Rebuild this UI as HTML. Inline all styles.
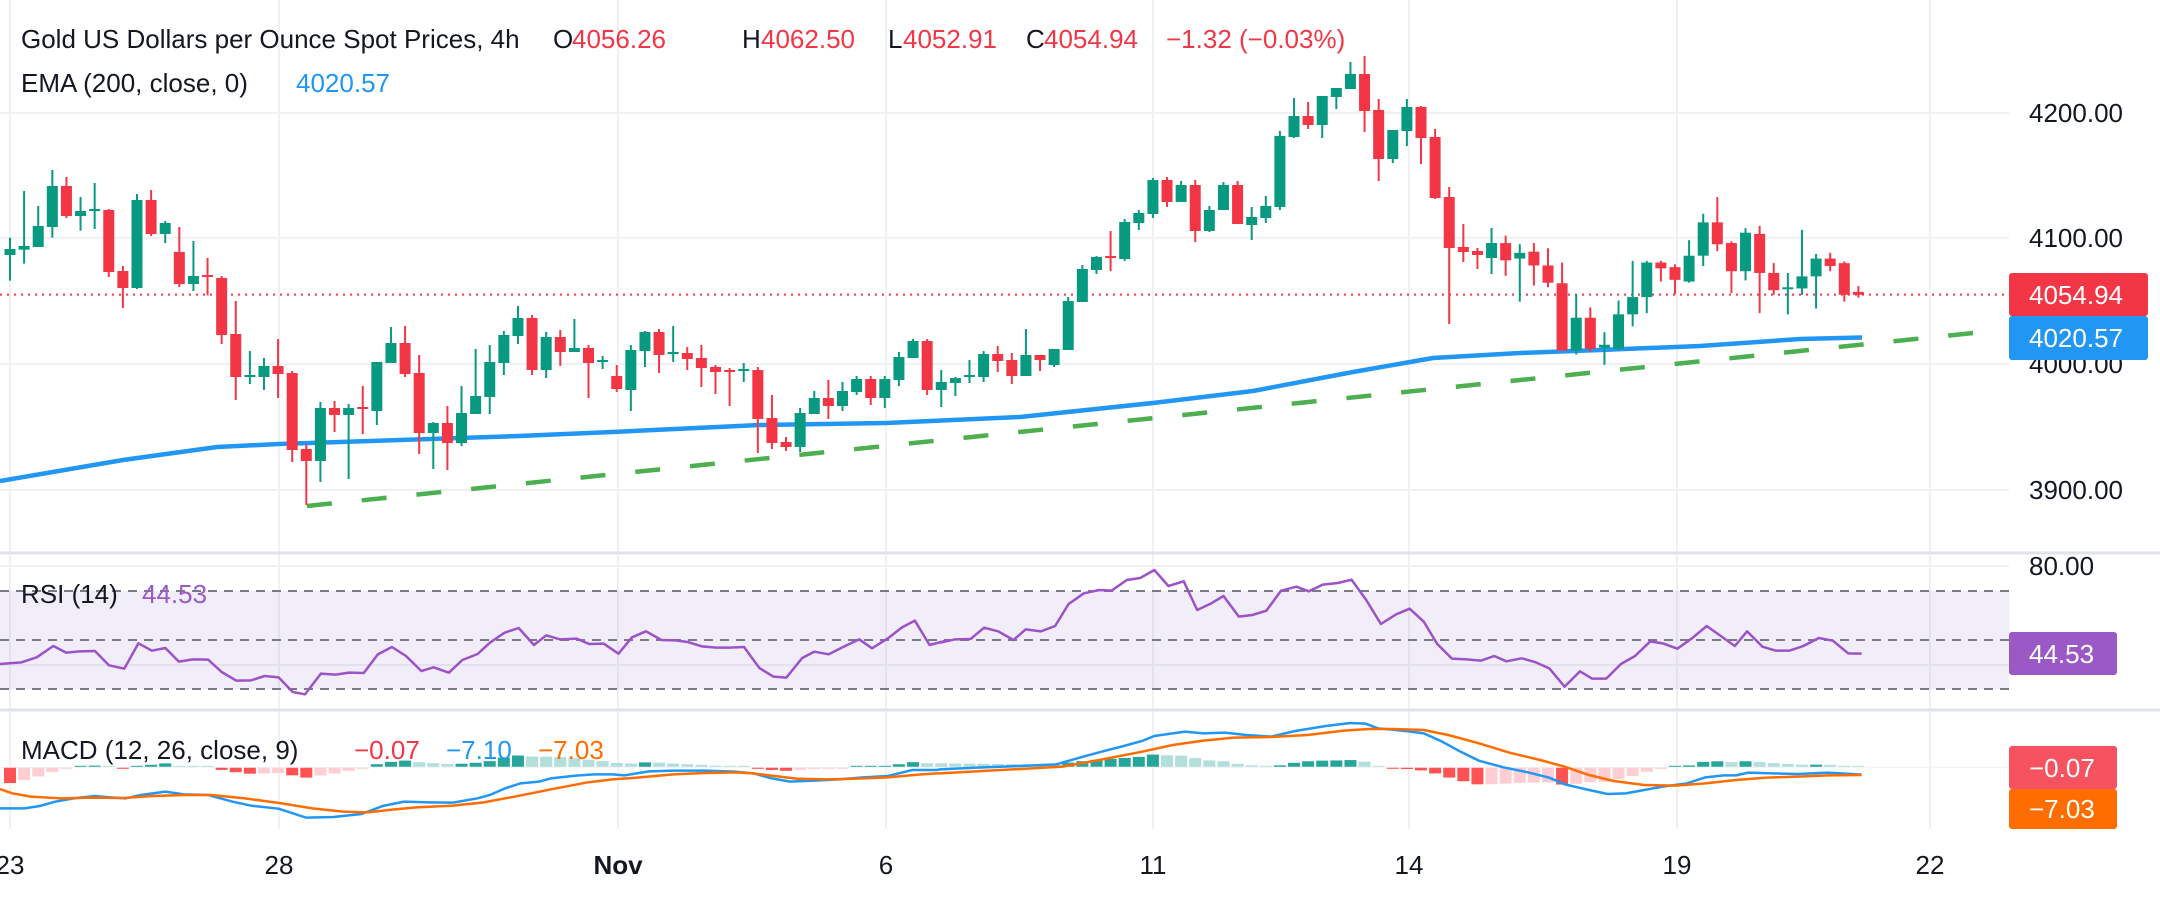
<!DOCTYPE html>
<html><head><meta charset="utf-8"><style>
html,body{margin:0;padding:0;background:#fff;}
svg{display:block;}
text{font-family:"Liberation Sans",sans-serif;}
</style></head><body>
<svg id="s" width="2160" height="901" xmlns="http://www.w3.org/2000/svg"></svg>
<script>
var G='#089981',R='#f23645';
var A=[[323,357,375,452,G],[183,348,359,401,G],[228,288,351,351,G],[120,168,291,323,G],[141,168,258,264,R],[201,243,258,302,G],[159,237,242,297,G],[237,240,426,441,R],[408,423,474,534,R],[192,210,474,477,G],[180,210,312,318,R],[273,279,312,339,G],[291,366,462,471,R],[333,438,462,483,G],[384,435,440,496,R],[438,444,615,642,R],[513,612,741,810,R],[663,735,741,762,G],[684,708,741,780,G],[627,708,732,804,R],[723,729,960,996,R],[942,957,993,1125,R],[816,834,993,1056,G],[813,834,855,906,R],[822,834,855,1047,G],[768,831,837,912,R],[696,696,843,885,G],[591,639,699,699,G],[588,639,732,741,R],[675,729,909,972,R],[876,879,909,1017,G],[828,879,939,1020,R],[768,849,939,948,G],[657,798,852,852,G],[645,696,801,852,G],[603,615,699,735,G],[528,564,618,642,G],
[555,564,720,735,R],[606,621,720,744,G],[600,621,666,708,R],[567,654,666,666,G],[645,654,699,804,R],[678,690,695,717,G],[705,738,777,786,R],[645,660,780,843,G],[603,606,663,711,G],[597,606,675,729,R],[588,666,670,696,G],[651,669,687,720,R],[645,684,714,771,R],[705,711,726,792,R],[714,720,725,828,R],[699,717,722,756,G],[711,720,867,969,R],[795,864,939,957,R],[921,936,951,963,R],[834,849,951,966,G],[783,804,852,852,G],[750,804,828,867,R],[756,783,828,843,G],[738,747,786,795,G],[738,747,804,825,R],[738,747,804,834,G],[666,681,750,768,G],[627,633,684,684,G],[627,633,780,795,R],[720,756,780,831,G],[741,744,759,798,G],[690,735,740,759,G],[663,672,741,756,G],[648,672,693,726,R],[669,690,738,762,R]];
var B=[[867,945,1008,1008,G],[945,945,960,993,R],[927,927,975,981,G],[771,783,930,930,G],[675,687,786,786,G],[648,651,690,702,G],[573,648,651,693,R],[537,546,657,663,G],[510,519,549,570,G],[414,420,522,534,G],[411,420,486,501,R],[423,435,486,486,G],[420,435,573,606,R],[498,510,573,576,G],[426,435,510,510,G],[423,435,552,552,R],[501,531,555,600,G],[468,498,534,549,G],[273,288,501,510,G],[174,228,291,294,G],[186,228,255,267,R],[168,168,255,294,G],[144,144,171,207,G],[66,102,147,147,G],[48,102,213,276,R],[177,210,357,423,R],[270,270,357,369,G],[177,201,273,318,G],[198,201,294,372,R],[267,291,474,477,R],[441,471,624,852,R],[552,621,636,666,R],[624,633,645,687,R],[564,609,654,702,G]];
var C=[[410,423,453,480,R],[425,440,450,525,G],[423,438,462,497,R],[432,462,492,500,R],[457,493,610,610,R],[512,553,610,617,G],[535,553,607,612,R],[578,600,605,635,G],[523,547,607,610,G],[454,517,547,568,G],[454,457,517,545,G],[454,457,467,490,R],[460,465,487,512,R],[418,445,490,492,G],[372,387,445,463,G],[343,387,425,437,R],[420,423,472,510,R],[397,405,472,488,G],[393,407,475,545,R],[458,475,505,513,R],[475,500,503,547,G],[400,481,502,513,G],[442,450,481,537,G],[440,450,463,472,R],[455,458,513,525,R],[498,508,513,518,R]];
var cs=[];
A.forEach(function(c){cs.push([130+c[0]/3,130+c[1]/3,130+c[2]/3,130+c[3]/3,c[4]]);});
B.forEach(function(c){cs.push([40+c[0]/3,40+c[1]/3,40+c[2]/3,40+c[3]/3,c[4]]);});
C.forEach(function(c){var k=0.5746;cs.push([c[0]*k,c[1]*k,c[2]*k,c[3]*k,c[4]]);});
function X(i){return 10+14.11*i;}
var o='';
[10,279,618,886,1153,1409,1677,1930].forEach(function(x){o+='<line x1="'+x+'" y1="0" x2="'+x+'" y2="829" stroke="#f0f1f4" stroke-width="2"/>';});
[113,237.7,364,490,566,665].forEach(function(y){o+='<line x1="0" y1="'+y+'" x2="2009" y2="'+y+'" stroke="#f0f1f4" stroke-width="2"/>';});
o+='<line x1="0" y1="553" x2="2160" y2="553" stroke="#e0e3eb" stroke-width="3"/>';
o+='<line x1="0" y1="710" x2="2160" y2="710" stroke="#e0e3eb" stroke-width="3"/>';
o+='<line x1="0" y1="294.6" x2="2009" y2="294.6" stroke="#f23645" stroke-width="2" stroke-dasharray="2,5"/>';
o+='<polyline fill="none" stroke="#2196f3" stroke-width="4.5" stroke-linejoin="round" points="0,481 123,460 217,447 279,444 519,436 618,431.7 760,425 886,423 1020,417 1153,403 1253,391 1353,372 1410,362 1433,358 1520,353 1600,350 1700,346 1800,339 1862,337.5"/>';
o+='<line x1="307" y1="506" x2="1973" y2="333" stroke="#4caf50" stroke-width="4.5" stroke-dasharray="25,30"/>';
cs.forEach(function(c,i){var x=X(i);var t=Math.min(c[1],c[2]),b=Math.max(c[1],c[2]);if(b-t<2){b=t+2;}
o+='<line x1="'+x+'" y1="'+c[0]+'" x2="'+x+'" y2="'+c[3]+'" stroke="'+c[4]+'" stroke-width="2"/>';
o+='<rect x="'+(x-5.5)+'" y="'+t+'" width="11" height="'+(b-t)+'" fill="'+c[4]+'"/>';});
o+='<rect x="0" y="591" width="2009" height="98" fill="#7e57c2" fill-opacity="0.1"/>';
[591,640,689].forEach(function(y){o+='<line x1="0" y1="'+y+'" x2="2009" y2="'+y+'" stroke="#787b86" stroke-width="2" stroke-dasharray="9,7"/>';});
function pts(arr,ox,sx,oy){return arr.map(function(p){return [ox+p[0]/sx,oy+p[1]/3];});}
var r1=[[0,342],[35,337],[60,322],[87,288],[108,308],[130,304],[155,303],[178,346],[203,356],[226,280],[248,302],[270,294],[292,335],[315,328],[340,329],[362,366],[386,392],[410,391],[432,378],[455,382],[478,426],[498,433],[524,371],[548,374],[570,368],[594,369],[617,313],[640,291],[663,318],[688,363],[708,352],[733,368],[755,330],[780,312],[800,278],[824,248],[847,234],[872,285],[892,256],[914,268],[942,266],[962,282],[986,281],[1010,311],[1032,262],[1055,244],[1080,270],[1103,271],[1123,276],[1146,289],[1170,293],[1192,293],[1215,291],[1240,354],[1263,380],[1284,383],[1310,324],[1330,305],[1353,313],[1380,288],[1403,268],[1424,295],[1450,265],[1473,232],[1494,212],[1518,285],[1545,272]];
var r2=[[0,278],[25,268],[50,267],[72,233],[95,244],[120,270],[140,238],[165,244],[188,228],[210,162],[235,130],[260,120],[280,122],[305,90],[327,84],[350,60],[373,108],[398,94],[420,180],[443,160],[463,138],[488,200],[510,195],[533,182],[557,122],[582,110],[602,124],[625,104],[650,99],[672,89],[696,150],[720,222],[745,193],[767,176],[790,215],[812,282],[836,326],[860,328],[883,332],[905,318],[925,334],[950,325],[973,337],[995,355],[1020,410],[1045,364],[1065,386],[1088,386],[1112,342],[1135,318],[1160,274],[1182,281],[1204,296],[1228,265],[1252,228],[1275,258],[1298,288],[1318,244],[1343,290],[1365,302],[1387,302],[1410,288],[1435,264],[1458,272],[1483,310],[1505,311]];
var rsi=pts(r1,0,1.633,550).concat(pts(r2,940,1.633,550));
o+='<polyline fill="none" stroke="#9c52c8" stroke-width="2.5" stroke-linejoin="round" points="'+rsi.map(function(p){return p.join(',')}).join(' ')+'"/>';
var b1=[[0,775],[40,775],[65,768],[90,755],[120,745],[155,738],[180,742],[205,745],[230,735],[270,725],[300,733],[340,735],[380,755],[410,767],[455,776],[500,803],[545,801],[590,792],[625,768],[660,755],[700,757],[740,758],[780,745],[800,735],[825,715],[850,700],[880,695],[900,685],[940,677],[970,673],[1000,673],[1020,676],[1060,664],[1100,662],[1150,662],[1200,665],[1230,670],[1260,685],[1290,695],[1330,692],[1370,688],[1410,682],[1450,678],[1490,660],[1530,660]];
var o1=[[0,717],[20,730],[50,740],[100,745],[150,743],[200,744],[250,738],[300,735],[345,735],[400,745],[460,760],[510,775],[560,785],[600,787],[640,779],[680,772],[740,767],[790,757],[840,740],[900,718],[960,697],[1000,688],[1040,683],[1100,673],[1150,669],[1200,667],[1230,670],[1260,677],[1300,686],[1350,688],[1400,686],[1450,682],[1500,674],[1530,670]];
var b2=[[0,658],[60,653],[130,648],[190,643],[230,622],[270,602],[300,588],[330,573],[350,558],[400,545],[430,550],[465,548],[500,555],[540,560],[580,543],[630,528],[670,519],[695,521],[715,535],[760,543],[790,550],[820,575],[850,605],[880,632],[920,652],[960,667],[995,683],[1020,703],[1060,720],[1090,732],[1120,730],[1150,720],[1180,710],[1220,700],[1250,682],[1280,676],[1300,676],[1320,668],[1360,670],[1400,672],[1450,668],[1505,674]];
var o2=[[0,670],[80,662],[200,650],[260,630],[330,605],[380,585],[430,572],[480,563],[540,561],[600,555],[660,542],[700,537],[740,537],[790,540],[830,555],[880,580],[930,608],[980,630],[1020,650],[1060,675],[1100,693],[1150,705],[1200,707],[1250,700],[1300,690],[1350,683],[1400,680],[1450,676],[1505,675]];
var bl=pts(b1,0,1.633,550).concat(pts(b2,940,1.633,550));
var or=pts(o1,0,1.633,550).concat(pts(o2,940,1.633,550));
function interp(a,x){if(x<=a[0][0])return a[0][1];for(var i=1;i<a.length;i++){if(x<=a[i][0]){var t=(x-a[i-1][0])/(a[i][0]-a[i-1][0]);return a[i-1][1]+t*(a[i][1]-a[i-1][1]);}}return a[a.length-1][1];}
var zero=767.3,prev=null;
for(var i=0;i<cs.length;i++){var x=X(i);var h=interp(or,x)-interp(bl,x);var col;
 if(h>=0){col=(prev===null||h>=prev)?'#26a69a':'#b2dfdb';}else{col=(prev===null||h<=prev)?'#ff5252':'#ffcdd2';}
 prev=h;var hh=Math.max(Math.abs(h),1.5);
 o+='<rect x="'+(x-6)+'" y="'+(h>=0?zero-hh:zero)+'" width="12" height="'+hh+'" fill="'+col+'"/>';}
o+='<line x1="0" y1="'+zero+'" x2="2009" y2="'+zero+'" stroke="#f0f1f4" stroke-width="1"/>';
o+='<polyline fill="none" stroke="#2196f3" stroke-width="2.5" points="'+bl.map(function(p){return p.join(',')}).join(' ')+'"/>';
o+='<polyline fill="none" stroke="#ff6d00" stroke-width="2.5" points="'+or.map(function(p){return p.join(',')}).join(' ')+'"/>';
function T(x,y,s,c,sz,anchor,w){return '<text x="'+x+'" y="'+y+'" fill="'+c+'" font-size="'+(sz||26)+'"'+(anchor?' text-anchor="'+anchor+'"':'')+(w?' font-weight="'+w+'"':'')+'>'+s+'</text>';}
o+=T(2029,122,'4200.00','#131722');o+=T(2029,247,'4100.00','#131722');o+=T(2029,373,'4000.00','#131722');o+=T(2029,499,'3900.00','#131722');o+=T(2029,575,'80.00','#131722');
o+='<rect x="2009" y="273" width="139" height="43" rx="3" fill="#f23645"/>'+T(2029,304,'4054.94','#fff');
o+='<rect x="2009" y="316" width="139" height="44" rx="3" fill="#2196f3"/>'+T(2029,347,'4020.57','#fff');
o+='<rect x="2009" y="632" width="108" height="43" rx="3" fill="#9b59c5"/>'+T(2029,663,'44.53','#fff');
o+='<rect x="2009" y="746" width="108" height="43" rx="3" fill="#f7525f"/>'+T(2029,777,'−0.07','#fff');
o+='<rect x="2009" y="789" width="108" height="40" rx="3" fill="#ff6d00"/>'+T(2029,818,'−7.03','#fff');
[[10,'23'],[279,'28'],[618,'Nov'],[886,'6'],[1153,'11'],[1409,'14'],[1677,'19'],[1930,'22']].forEach(function(d){o+=T(d[0],874,d[1],'#131722',26,'middle',d[1]=='Nov'?'bold':null);});
o+=T(21,48,'Gold US Dollars per Ounce Spot Prices, 4h','#131722');
o+=T(553,48,'O','#131722')+T(572,48,'4056.26','#f23645')+T(742,48,'H','#131722')+T(761,48,'4062.50','#f23645')+T(888,48,'L','#131722')+T(903,48,'4052.91','#f23645')+T(1026,48,'C','#131722')+T(1044,48,'4054.94','#f23645')+T(1166,48,'−1.32 (−0.03%)','#f23645');
o+=T(21,92,'EMA (200, close, 0)','#131722')+T(296,92,'4020.57','#2196f3');
o+=T(21,603,'RSI (14)','#131722')+T(142,603,'44.53','#9b59c5');
o+=T(21,759,'MACD (12, 26, close, 9)','#131722')+T(354,759,'−0.07','#f23645')+T(446,759,'−7.10','#2196f3')+T(538,759,'−7.03','#ff6d00');
document.getElementById('s').innerHTML=o;
</script>
</body></html>
